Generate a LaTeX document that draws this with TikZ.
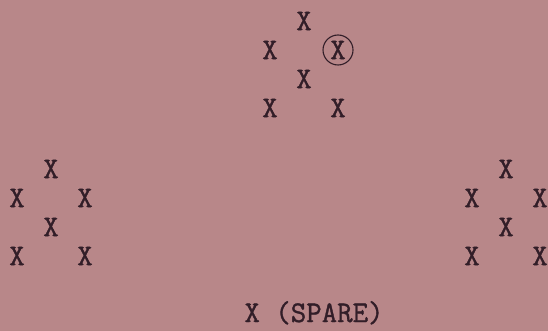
\documentclass[tikz,border=0pt]{standalone}
\usepackage{fontspec}
\setmonofont{Latin Modern Mono}[FakeBold=1.2]
\usepackage{xcolor}
\usetikzlibrary{positioning}
\definecolor{paperMauve}{RGB}{184,135,137}
\definecolor{inkPlum}{RGB}{50,30,40}

\begin{document}
\begin{tikzpicture}[
  x=1pt,y=-1pt,
  every node/.style={font=\ttfamily\fontsize{30}{32}\selectfont,text=inkPlum,inner sep=0pt},
  spareRing/.style={draw=inkPlum,line width=1.1pt}
]
  % Paper.
  \fill[paperMauve] (0,0) rectangle (548,331);

  % Three clusters of six.
  \foreach \grp/\cx/\cy in {top/304/21, left/51/169, right/506/169} {
    \node (\grp-a) at (\cx,\cy) {X};
    \node (\grp-w) at ({\cx-34},{\cy+29}) {X};
    \node (\grp-e) at ({\cx+34},{\cy+29}) {X};
    \node (\grp-m) at (\cx,{\cy+58}) {X};
    \node (\grp-sw) at ({\cx-34},{\cy+87}) {X};
    \node (\grp-se) at ({\cx+34},{\cy+87}) {X};
  }

  % The spare one, ringed.
  \draw[spareRing] (top-e) circle (15);

  \node[anchor=base] (spareNote) at (314,322) {X (SPARE)};
\end{tikzpicture}
\end{document}
